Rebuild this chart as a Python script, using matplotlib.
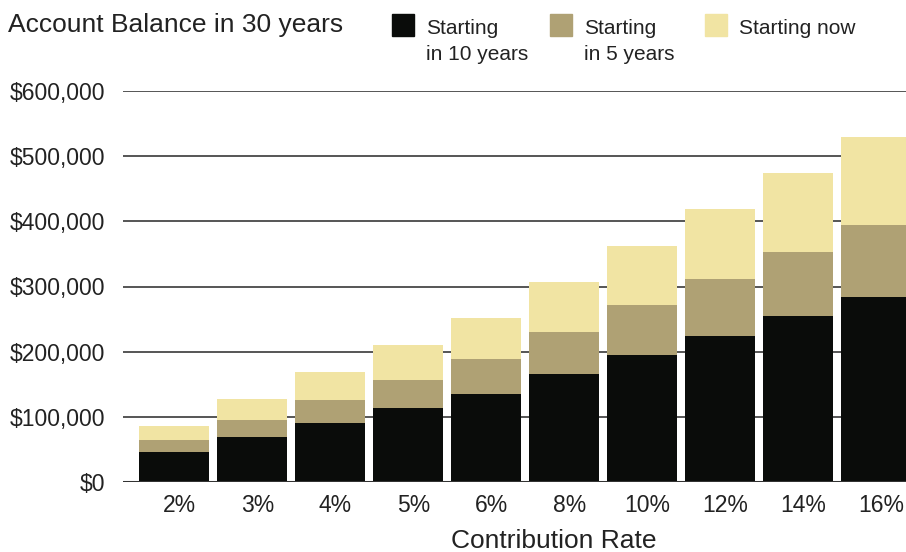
import numpy as np
import matplotlib
matplotlib.use('Agg')
import matplotlib.pyplot as plt
from matplotlib.patches import Rectangle
from matplotlib.ticker import FuncFormatter

# contribution rates and account balance (stacked segments, $)
rates = ['2%', '3%', '4%', '5%', '6%', '8%', '10%', '12%', '14%', '16%']
start_10 = [46000, 69000, 90000, 113000, 135000, 166000, 195000, 224000, 255000, 284000]
start_5 = [18000, 26000, 36000, 43000, 54000, 64000, 77000, 87000, 98000, 110000]
start_now = [22000, 32000, 43000, 54000, 63000, 77000, 90000, 108000, 121000, 135000]
labels = ['Starting\nin 10 years', 'Starting\nin 5 years', 'Starting now']
colors = ['#0a0c0a', '#afa174', '#f1e4a3']

plt.rcParams['font.family'] = ['Liberation Sans', 'DejaVu Sans']
txt = '#222222'

fig = plt.figure(figsize=(9.06, 5.52), dpi=100)
ax = fig.add_axes([123/906, 70/552, 1 - 123/906, (482-91)/552])

x = np.arange(len(rates))
bottom = np.zeros(len(rates))
for vals, c in zip([start_10, start_5, start_now], colors):
    ax.bar(x, vals, width=0.9, bottom=bottom, color=c, zorder=3)
    bottom += np.array(vals)

ax.set_xlim(-0.654, 9.385)
ax.set_ylim(0, 600000)
ax.set_yticks(np.arange(0, 600001, 100000))
ax.yaxis.set_major_formatter(FuncFormatter(lambda v, p: '${:,.0f}'.format(v)))
ax.set_xticks(x + 0.07)
ax.set_xticklabels(rates)
ax.tick_params(length=0, labelsize=16.5, colors=txt)
ax.tick_params(axis='y', pad=13)
ax.tick_params(axis='x', pad=9)
ax.grid(axis='y', color='#555555', lw=1.4, zorder=1)
for s in ax.spines.values():
    s.set_visible(False)
ax.axhline(0, color='#333333', lw=2.2, zorder=4)
ax.set_facecolor('none')

fig.text(554/906, 1 - 548/552, 'Contribution Rate', ha='center', va='baseline', fontsize=19, color=txt)
fig.text(8/906, 1 - 32/552, 'Account Balance in 30 years', ha='left', va='baseline', fontsize=19, color=txt)

# legend
sq_x = [392, 550, 705]
tx_x = [426, 584, 739]
for sx, tx, lab, c in zip(sq_x, tx_x, labels, colors):
    fig.add_artist(Rectangle((sx/906, 1 - 36/552), 22/906, 22/552, color=c, transform=fig.transFigure))
    lines = lab.split('\n')
    for k, ln in enumerate(lines):
        fig.text(tx/906, 1 - (34 + 26*k)/552, ln, ha='left', va='baseline', fontsize=15, color=txt)

fig.savefig('out.png', dpi=100)
